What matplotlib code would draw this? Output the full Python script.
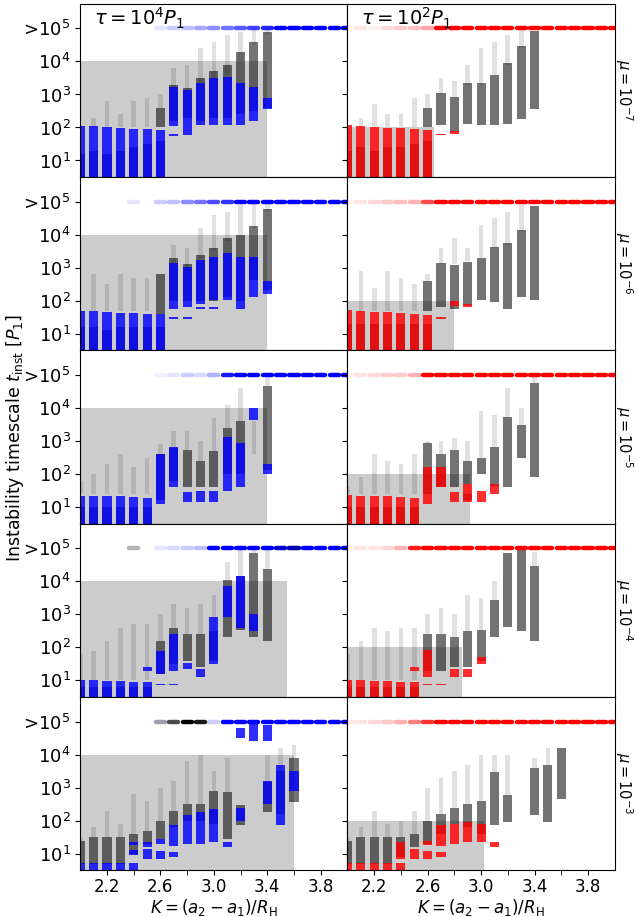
import numpy as np
import matplotlib.pyplot as plt
from matplotlib.ticker import NullLocator
from matplotlib.transforms import blended_transform_factory

# K grid used for the ">1e5" (never unstable) row
k_top = [2.0, 2.1, 2.2, 2.3, 2.4, 2.5, 2.6, 2.7, 2.8, 2.9, 3.0,
         3.1, 3.2, 3.3, 3.4, 3.5, 3.6, 3.7, 3.8, 3.9, 4.0]

mu_labels = ['$\\mu = 10^{-7}$', '$\\mu = 10^{-6}$', '$\\mu = 10^{-5}$',
             '$\\mu = 10^{-4}$', '$\\mu = 10^{-3}$']
tau_values = [1e4, 1e2]
tau_labels = ['$\\tau = 10^4 P_1$', '$\\tau = 10^2 P_1$']

# extent of the grey region (K limit) per row, for tau = 1e4 and tau = 1e2
grey_k_t4 = [3.4, 3.4, 3.4, 3.55, 3.6]
grey_k_t2 = [2.65, 2.8, 2.92, 2.86, 3.02]

# clusters as (K, log10 t_low, log10 t_high)
# col = dense coloured core, blk = dense black cloud, spr = scattered outliers
col_t4_m7 = [(2.0, .5, 2.03), (2.1, .5, 2.03), (2.2, .5, 2.0), (2.3, .5, 1.98), (2.4, .5, 1.96),
             (2.5, .5, 1.94), (2.6, .5, 1.93), (2.7, 2.03, 3.23), (2.7, 1.75, 1.8), (2.8, 1.78, 3.13),
             (2.9, 2.06, 3.34), (3.0, 2.06, 3.49), (3.1, 2.06, 3.54), (3.2, 2.06, 3.34),
             (3.3, 2.21, 3.23), (3.4, 2.55, 2.9)]
blk_t4_m7 = [(2.0, .5, 1.2), (2.1, .5, 1.3), (2.2, .5, 1.2), (2.3, .5, 1.3), (2.4, .5, 1.4),
             (2.5, .5, 1.5), (2.6, .5, 1.6), (2.6, 2.0, 2.6), (2.7, 2.2, 3.3), (2.8, 2.3, 3.2),
             (2.9, 2.2, 3.5), (3.0, 2.3, 3.7), (3.1, 2.3, 3.9), (3.2, 2.4, 4.3), (3.3, 2.5, 4.6),
             (3.4, 2.6, 4.9)]
spr_t4_m7 = [(2.1, 2.0, 2.3), (2.2, 2.0, 2.8), (2.3, 2.0, 2.4), (2.4, 2.0, 2.8), (2.5, 2.0, 2.9),
             (2.6, 2.6, 3.0), (2.7, 3.2, 3.8), (2.8, 3.1, 3.9), (2.9, 3.3, 4.4), (3.0, 3.5, 4.6),
             (3.1, 3.6, 4.8), (3.2, 4.0, 4.9), (3.3, 4.5, 5.0), (3.4, 4.8, 5.0)]
top_t4_m7 = [0, 0, 0, 0, 0, 0, .1, .2, .25, .35, .45, .55, .65, .75, .85, 1, 1, 1, 1, 1, 1]

col_t2_m7 = [(2.0, .5, 2.06), (2.1, .5, 2.03), (2.2, .5, 2.0), (2.3, .5, 1.99), (2.4, .5, 1.97),
             (2.5, .5, 1.95), (2.6, .5, 1.93), (2.7, 1.76, 1.8), (2.8, 1.8, 1.9)]
blk_t2_m7 = [(2.0, .5, 1.3), (2.1, .5, 1.4), (2.2, .5, 1.3), (2.3, .5, 1.4), (2.4, .5, 1.4),
             (2.5, .5, 1.5), (2.6, .5, 1.6), (2.6, 2.0, 2.6), (2.7, 2.06, 3.03), (2.8, 1.85, 2.93),
             (2.9, 2.11, 3.34), (3.0, 2.06, 3.34), (3.1, 2.06, 3.59), (3.2, 2.11, 3.95),
             (3.3, 2.27, 4.46), (3.4, 2.57, 4.92)]
spr_t2_m7 = [(2.1, 2.0, 2.3), (2.2, 2.0, 2.7), (2.3, 2.0, 2.4), (2.4, 2.0, 2.4), (2.5, 2.0, 2.9),
             (2.6, 2.6, 3.0), (2.7, 3.0, 3.5), (2.8, 2.9, 3.4), (2.9, 3.3, 3.9), (3.0, 3.3, 4.4),
             (3.1, 3.6, 4.6), (3.2, 3.9, 4.8), (3.3, 4.4, 4.95)]
top_t2_m7 = [.03, .1, .05, .15, .2, .25, .35, 1, 1, 1, 1, 1, 1, 1, 1, 1, 1, 1, 1, 1, 1]

col_t4_m6 = [(2.0, .5, 1.7), (2.1, .5, 1.68), (2.2, .5, 1.67), (2.3, .5, 1.64), (2.4, .5, 1.63),
             (2.5, .5, 1.6), (2.6, .5, 1.6), (2.7, 1.76, 3.13), (2.7, 1.45, 1.5), (2.8, 1.81, 3.03),
             (2.8, 1.45, 1.5), (2.9, 1.91, 3.23), (2.9, 1.75, 1.8), (3.0, 2.01, 3.34),
             (3.0, 1.75, 1.8), (3.1, 2.01, 3.44), (3.2, 1.76, 3.34), (3.3, 2.11, 3.34),
             (3.4, 2.2, 2.6)]
blk_t4_m6 = [(2.0, .5, 1.2), (2.1, .5, 1.2), (2.2, .5, 1.1), (2.3, .5, 1.2), (2.4, .5, 1.2),
             (2.5, .5, 1.2), (2.6, .5, 1.2), (2.6, 1.6, 2.8), (2.7, 2.0, 3.3), (2.8, 2.0, 3.1),
             (2.9, 2.0, 3.4), (3.0, 2.0, 3.6), (3.1, 2.1, 3.9), (3.2, 2.0, 4.0), (3.3, 2.62, 4.26),
             (3.4, 2.32, 4.77)]
spr_t4_m6 = [(2.1, 1.7, 2.8), (2.2, 1.7, 2.5), (2.3, 1.7, 2.8), (2.4, 1.7, 2.7), (2.5, 1.7, 2.7),
             (2.7, 3.1, 3.7), (2.8, 3.0, 3.6), (2.9, 3.3, 4.2), (3.0, 3.5, 4.6), (3.1, 3.8, 4.7),
             (3.2, 4.0, 4.9), (3.3, 4.2, 5.0), (3.4, 4.7, 5.0)]
top_t4_m6 = [0, 0, 0, 0, .1, 0, .2, .25, .45, .55, .7, .8, 1, 1, 1, 1, 1, 1, 1, 1, 1]

col_t2_m6 = [(2.0, .5, 1.72), (2.1, .5, 1.68), (2.2, .5, 1.66), (2.3, .5, 1.65), (2.4, .5, 1.63),
             (2.5, .5, 1.6), (2.6, .5, 1.58), (2.7, 1.45, 1.5), (2.8, 1.85, 2.0), (2.9, 1.8, 1.9)]
blk_t2_m6 = [(2.0, .5, 1.3), (2.1, .5, 1.3), (2.2, .5, 1.3), (2.3, .5, 1.3), (2.4, .5, 1.3),
             (2.5, .5, 1.3), (2.6, .5, 1.3), (2.6, 1.7, 2.6), (2.7, 1.81, 3.13), (2.8, 1.76, 3.08),
             (2.9, 1.86, 3.18), (3.0, 2.01, 3.29), (3.1, 1.96, 3.64), (3.2, 1.76, 3.74),
             (3.3, 2.11, 4.15), (3.4, 2.01, 4.87)]
spr_t2_m6 = [(2.1, 1.7, 2.9), (2.2, 1.7, 2.4), (2.3, 1.7, 2.9), (2.4, 1.7, 2.7), (2.5, 1.7, 2.5),
             (2.6, 2.6, 2.8), (2.7, 3.1, 3.6), (2.8, 3.1, 3.9), (2.9, 3.2, 3.6), (3.0, 3.3, 4.3),
             (3.1, 3.6, 4.5), (3.2, 3.7, 4.7), (3.3, 4.1, 4.9)]
top_t2_m6 = [.05, .1, .15, .2, .25, .3, .7, 1, 1, 1, 1, 1, 1, 1, 1, 1, 1, 1, 1, 1, 1]

col_t4_m5 = [(2.0, .5, 1.35), (2.1, .5, 1.35), (2.2, .5, 1.33), (2.3, .5, 1.33), (2.4, .5, 1.3),
             (2.5, .5, 1.28), (2.6, 1.09, 2.62), (2.7, 1.6, 2.83), (2.8, 1.14, 1.45),
             (2.9, 1.14, 1.5), (3.0, 1.14, 1.5), (3.1, 1.5, 3.13), (3.2, 1.6, 2.93),
             (3.3, 3.64, 4.0), (3.4, 2.0, 2.3)]
blk_t4_m5 = [(2.0, .5, 1.0), (2.1, .5, 1.0), (2.2, .5, 1.0), (2.3, .5, 1.0), (2.4, .5, 1.0),
             (2.5, .5, 1.0), (2.6, 1.2, 2.6), (2.7, 1.8, 2.8), (2.8, 1.6, 2.74), (2.9, 1.6, 2.4),
             (3.0, 1.6, 2.7), (3.1, 2.0, 3.4), (3.2, 2.0, 3.6), (3.4, 2.11, 4.66)]
spr_t4_m5 = [(2.0, 1.4, 1.8), (2.1, 1.4, 2.0), (2.2, 1.4, 2.3), (2.3, 1.4, 2.6), (2.4, 1.4, 2.2),
             (2.5, 1.4, 2.5), (2.6, 2.6, 2.9), (2.7, 2.8, 3.3), (2.8, 2.74, 3.3), (2.9, 2.4, 3.0),
             (3.0, 2.7, 3.7), (3.1, 3.4, 4.1), (3.2, 3.6, 4.6), (3.3, 2.6, 3.6), (3.4, 4.66, 5.0)]
top_t4_m5 = [0, 0, 0, 0, 0, 0, .05, .1, .2, .15, .3, .9, 1, 1, 1, 1, 1, 1, 1, 1, 1]

col_t2_m5 = [(2.0, .5, 1.38), (2.1, .5, 1.35), (2.2, .5, 1.33), (2.3, .5, 1.33), (2.4, .5, 1.3),
             (2.5, .5, 1.28), (2.6, 1.09, 2.21), (2.7, 1.6, 2.21), (2.8, 1.14, 1.45),
             (2.9, 1.14, 1.7), (3.0, 1.14, 1.48), (3.1, 1.4, 1.7)]
blk_t2_m5 = [(2.0, .5, 1.0), (2.1, .5, 1.0), (2.2, .5, 1.0), (2.3, .5, 1.0), (2.4, .5, 1.0),
             (2.5, .5, 1.0), (2.6, 1.4, 2.93), (2.7, 1.6, 2.62), (2.8, 1.6, 2.72), (2.9, 1.2, 1.4),
             (2.9, 1.7, 2.4), (3.0, 2.0, 2.5), (3.1, 1.65, 2.83), (3.2, 1.6, 3.74), (3.3, 2.5, 3.5),
             (3.4, 1.91, 4.77)]
spr_t2_m5 = [(2.0, 1.4, 1.6), (2.1, 1.4, 1.9), (2.2, 1.4, 2.6), (2.3, 1.4, 2.4), (2.4, 1.4, 2.3),
             (2.5, 1.4, 2.6), (2.6, 2.9, 3.0), (2.7, 2.62, 3.0), (2.8, 2.72, 3.1), (2.9, 2.4, 3.0),
             (3.0, 2.5, 3.9), (3.1, 2.83, 3.8), (3.2, 3.74, 4.6), (3.3, 3.5, 4.0), (3.4, 4.77, 5.0)]
top_t2_m5 = [.05, .1, .15, .2, .2, .3, 1, 1, 1, 1, 1, 1, 1, 1, 1, 1, 1, 1, 1, 1, 1]

col_t4_m4 = [(2.0, .5, 1.01), (2.1, .5, 1.01), (2.2, .5, .99), (2.3, .5, .97), (2.4, .5, .95),
             (2.5, .5, .94), (2.5, 1.3, 1.4), (2.6, 1.19, 1.9), (2.6, .85, .9), (2.7, 1.3, 2.42),
             (2.7, .85, .9), (2.8, 1.35, 1.52), (2.9, 1.09, 1.35), (3.0, 1.5, 2.93),
             (3.1, 2.93, 3.85), (3.2, 2.6, 4.15), (3.3, 2.5, 3.0)]
blk_t4_m4 = [(2.0, .5, .8), (2.1, .5, .8), (2.2, .5, .8), (2.3, .5, .8), (2.4, .5, .8),
             (2.5, .5, .8), (2.6, 1.2, 2.2), (2.7, 1.5, 2.6), (2.8, 1.6, 2.4), (2.9, 1.4, 2.4),
             (3.0, 1.6, 2.5), (3.1, 2.32, 4.05), (3.2, 2.52, 4.15), (3.3, 2.32, 4.87),
             (3.4, 2.2, 4.36)]
spr_t4_m4 = [(2.0, 1.0, 1.8), (2.1, 1.0, 1.9), (2.2, 1.0, 2.2), (2.3, 1.0, 2.6), (2.4, 1.0, 2.7),
             (2.5, 1.0, 2.7), (2.6, 2.2, 3.0), (2.7, 2.6, 3.3), (2.8, 2.4, 3.2), (2.9, 2.4, 3.3),
             (3.0, 2.5, 3.6), (3.1, 4.05, 4.6), (3.2, 4.15, 5.0), (3.3, 4.87, 5.0), (3.4, 4.36, 5.0)]
top_t4_m4 = [0, 0, 0, 0, 0, 0, .1, .15, .2, .25, 1, 1, 1, 1, 1, 1, 1, 1, 1, 1, 1]
top_blk_t4_m4 = [0, 0, 0, 0, .3, 0, 0, 0, 0, 0, 0, 0, 0, 0, 0, .2, .3, 0, 0, 0, 0]

col_t2_m4 = [(2.0, .5, 1.01), (2.1, .5, 1.01), (2.2, .5, .99), (2.3, .5, .97), (2.4, .5, .96),
             (2.5, .5, .94), (2.5, 1.3, 1.4), (2.6, 1.09, 1.91), (2.6, .85, .9), (2.7, .85, .9),
             (2.8, 1.09, 1.35), (2.9, 1.09, 1.35), (3.0, 1.5, 1.7)]
blk_t2_m4 = [(2.0, .5, .8), (2.1, .5, .8), (2.2, .5, .8), (2.3, .5, .8), (2.4, .5, .8),
             (2.5, .5, .8), (2.6, 1.3, 2.4), (2.7, 1.3, 2.42), (2.8, 1.4, 2.3), (2.9, 1.4, 2.5),
             (3.0, 1.6, 2.52), (3.1, 2.32, 3.44), (3.2, 2.62, 4.87), (3.3, 2.5, 4.95),
             (3.4, 2.2, 4.46)]
spr_t2_m4 = [(2.0, 1.0, 1.8), (2.1, 1.0, 2.2), (2.2, 1.0, 2.6), (2.3, 1.0, 2.5), (2.4, 1.0, 2.6),
             (2.5, 1.0, 2.6), (2.6, 2.4, 3.0), (2.7, 2.42, 3.2), (2.8, 2.3, 3.0), (2.9, 2.5, 3.6),
             (3.0, 2.52, 3.5), (3.1, 3.44, 4.0), (3.4, 4.46, 4.9)]
top_t2_m4 = [.05, .1, .1, .15, .3, .9, 1, 1, 1, 1, 1, 1, 1, 1, 1, 1, 1, 1, 1, 1, 1]

col_t4_m3 = [(2.0, .5, .72), (2.1, .5, .72), (2.2, .5, .72), (2.3, .5, .72), (2.4, .5, .72),
             (2.4, .95, 1.1), (2.4, 1.25, 1.35), (2.5, .84, 1.14), (2.5, 1.2, 1.35),
             (2.6, .84, 1.09), (2.6, 1.3, 1.45), (2.7, 1.24, 1.86), (2.7, .9, 1.05),
             (2.8, 1.3, 2.16), (2.9, 1.3, 2.27), (3.0, 1.35, 2.37), (3.1, 1.2, 1.35),
             (3.2, 2.0, 2.4), (3.2, 4.5, 4.8), (3.3, 4.4, 5.0), (3.4, 4.4, 4.9), (3.4, 2.5, 3.2),
             (3.5, 1.86, 3.7), (3.6, 2.9, 3.5)]
blk_t4_m3 = [(2.0, .7, 1.4), (2.1, .7, 1.5), (2.2, .7, 1.5), (2.3, .7, 1.5), (2.4, 1.0, 1.6),
             (2.5, 1.3, 1.7), (2.6, 1.45, 2.0), (2.7, 1.8, 2.3), (2.8, 2.0, 2.5), (2.9, 2.0, 2.5),
             (3.0, 1.9, 2.9), (3.1, 1.45, 2.88), (3.2, 1.86, 2.47), (3.4, 2.27, 3.18),
             (3.5, 2.2, 3.5), (3.6, 2.57, 3.9)]
spr_t4_m3 = [(2.0, 1.4, 1.5), (2.1, 1.5, 1.8), (2.2, 1.5, 2.3), (2.3, 1.5, 1.9), (2.4, 1.6, 2.8),
             (2.5, 1.7, 2.6), (2.6, 2.0, 3.0), (2.7, 2.3, 3.2), (2.8, 2.5, 3.8), (2.9, 2.5, 4.0),
             (3.0, 2.9, 3.5), (3.1, 2.88, 3.9), (3.4, 3.18, 4.0), (3.5, 3.5, 4.2), (3.6, 3.9, 4.3)]
top_t4_m3 = [0, 0, 0, 0, 0, 0, .1, 0, 0, 0, .2, 1, 1, 1, 1, 1, 1, 1, 1, 1, 1]
top_blk_t4_m3 = [0, 0, 0, 0, 0, 0, .3, .7, 1, .9, 0, 0, 0, 0, 0, 0, 0, 0, 0, 0, 0]

col_t2_m3 = [(2.0, .5, .72), (2.1, .5, .72), (2.2, .5, .72), (2.3, .5, .72), (2.4, .5, .72),
             (2.4, .85, 1.35), (2.5, .84, 1.14), (2.6, .84, 1.09), (2.6, 1.25, 1.4),
             (2.7, 1.24, 1.86), (2.7, .9, 1.05), (2.8, 1.3, 1.9), (2.9, 1.35, 1.95),
             (3.0, 1.35, 1.9), (3.1, 1.2, 1.35)]
blk_t2_m3 = [(2.0, .7, 1.4), (2.1, .7, 1.5), (2.2, .7, 1.5), (2.3, .7, 1.5), (2.4, .9, 1.5),
             (2.5, 1.2, 1.6), (2.6, 1.3, 2.0), (2.7, 1.6, 2.2), (2.8, 1.9, 2.4), (2.9, 1.8, 2.5),
             (3.0, 1.6, 2.6), (3.1, 1.86, 3.49), (3.2, 1.96, 2.78), (3.4, 2.16, 3.59),
             (3.5, 1.96, 3.7), (3.6, 2.67, 4.2)]
spr_t2_m3 = [(2.0, 1.4, 1.5), (2.1, 1.5, 1.8), (2.2, 1.5, 2.3), (2.3, 1.5, 1.9), (2.4, 1.5, 2.0),
             (2.5, 1.6, 2.3), (2.6, 2.0, 3.0), (2.7, 2.2, 3.3), (2.8, 2.4, 3.5), (2.9, 2.5, 3.7),
             (3.0, 2.6, 4.0), (3.1, 3.49, 4.0), (3.2, 2.78, 4.0), (3.4, 3.59, 3.9), (3.5, 3.7, 4.2)]
top_t2_m3 = [.1, .1, .15, .2, .3, .5, .8, 1, 1, 1, 1, 1, 1, 1, 1, 1, 1, 1, 1, 1, 1]

panels = [
    [(col_t4_m7, blk_t4_m7, spr_t4_m7, top_t4_m7, None), (col_t2_m7, blk_t2_m7, spr_t2_m7, top_t2_m7, None)],
    [(col_t4_m6, blk_t4_m6, spr_t4_m6, top_t4_m6, None), (col_t2_m6, blk_t2_m6, spr_t2_m6, top_t2_m6, None)],
    [(col_t4_m5, blk_t4_m5, spr_t4_m5, top_t4_m5, None), (col_t2_m5, blk_t2_m5, spr_t2_m5, top_t2_m5, None)],
    [(col_t4_m4, blk_t4_m4, spr_t4_m4, top_t4_m4, top_blk_t4_m4), (col_t2_m4, blk_t2_m4, spr_t2_m4, top_t2_m4, None)],
    [(col_t4_m3, blk_t4_m3, spr_t4_m3, top_t4_m3, top_blk_t4_m3), (col_t2_m3, blk_t2_m3, spr_t2_m3, top_t2_m3, None)],
]
colours = ['#0000ff', '#ff0000']
ylo, yhi = 10 ** 0.5, 10 ** 5.75
width = 0.068


def draw_ranges(ax, ranges, color, alpha, w):
    k, lo, hi = np.array(ranges, dtype=float).T
    ax.bar(k, 10 ** hi - 10 ** lo, bottom=10 ** lo, width=w, color=color,
           alpha=alpha, linewidth=0, zorder=2)


def draw_top(ax, alphas, color):
    for k, a in zip(k_top, alphas):
        if a > 0:
            ax.hlines(1e5, k - width / 2, k + width / 2, colors=color, alpha=a,
                      linewidth=3.2, capstyle='round', zorder=3)


fig, axes = plt.subplots(5, 2, figsize=(6.37, 9.17), dpi=100, sharex=True, sharey=True)
fig.subplots_adjust(left=0.126, right=0.965, top=0.996, bottom=0.051, wspace=0, hspace=0)

for i in range(5):
    for j in range(2):
        ax = axes[i, j]
        col, blk, spr, top, top_blk = panels[i][j]
        grey_k = grey_k_t4[i] if j == 0 else grey_k_t2[i]
        ax.fill_between([1.9, grey_k], 1e-1, tau_values[j], color='#cccccc', linewidth=0, zorder=1)
        draw_ranges(ax, spr, 'k', 0.12, 0.035)
        draw_ranges(ax, blk, 'k', 0.55, width)
        draw_ranges(ax, col, colours[j], 0.82, width)
        draw_top(ax, top, colours[j])
        if top_blk is not None:
            draw_top(ax, top_blk, 'k')

        ax.set_yscale('log')
        ax.set_ylim(ylo, yhi)
        ax.set_xlim(2.0, 4.0)
        ax.set_yticks([1e1, 1e2, 1e3, 1e4, 1e5])
        ax.set_yticklabels(['$10^1$', '$10^2$', '$10^3$', '$10^4$', '>$10^5$'], fontsize=13)
        ax.yaxis.set_minor_locator(NullLocator())
        ax.set_xticks([2.2, 2.6, 3.0, 3.4, 3.8])
        ax.set_xticks([2.4, 2.8, 3.2, 3.6], minor=True)
        ax.tick_params(axis='x', which='minor', length=3.5)
        ax.tick_params(axis='x', labelsize=12, pad=2)
        if i == 0:
            ax.text(0.05, 0.915, tau_labels[j], transform=ax.transAxes, fontsize=14,
                    va='center', ha='left')
        if j == 1:
            trans = blended_transform_factory(fig.transFigure, ax.transAxes)
            ax.text(0.997, 0.5, mu_labels[i], transform=trans, rotation=270,
                    fontsize=10.5, va='center', ha='right')
        if i == 4:
            ax.set_xlabel('$K = (a_2 - a_1)/R_{\\rm H}$', fontsize=12, labelpad=1)

fig.text(0.024, 0.523, 'Instability timescale $t_{\\rm inst}$ [$P_1$]', rotation=90,
         va='center', ha='center', fontsize=12.5)

plt.savefig('out.png', dpi=100)
